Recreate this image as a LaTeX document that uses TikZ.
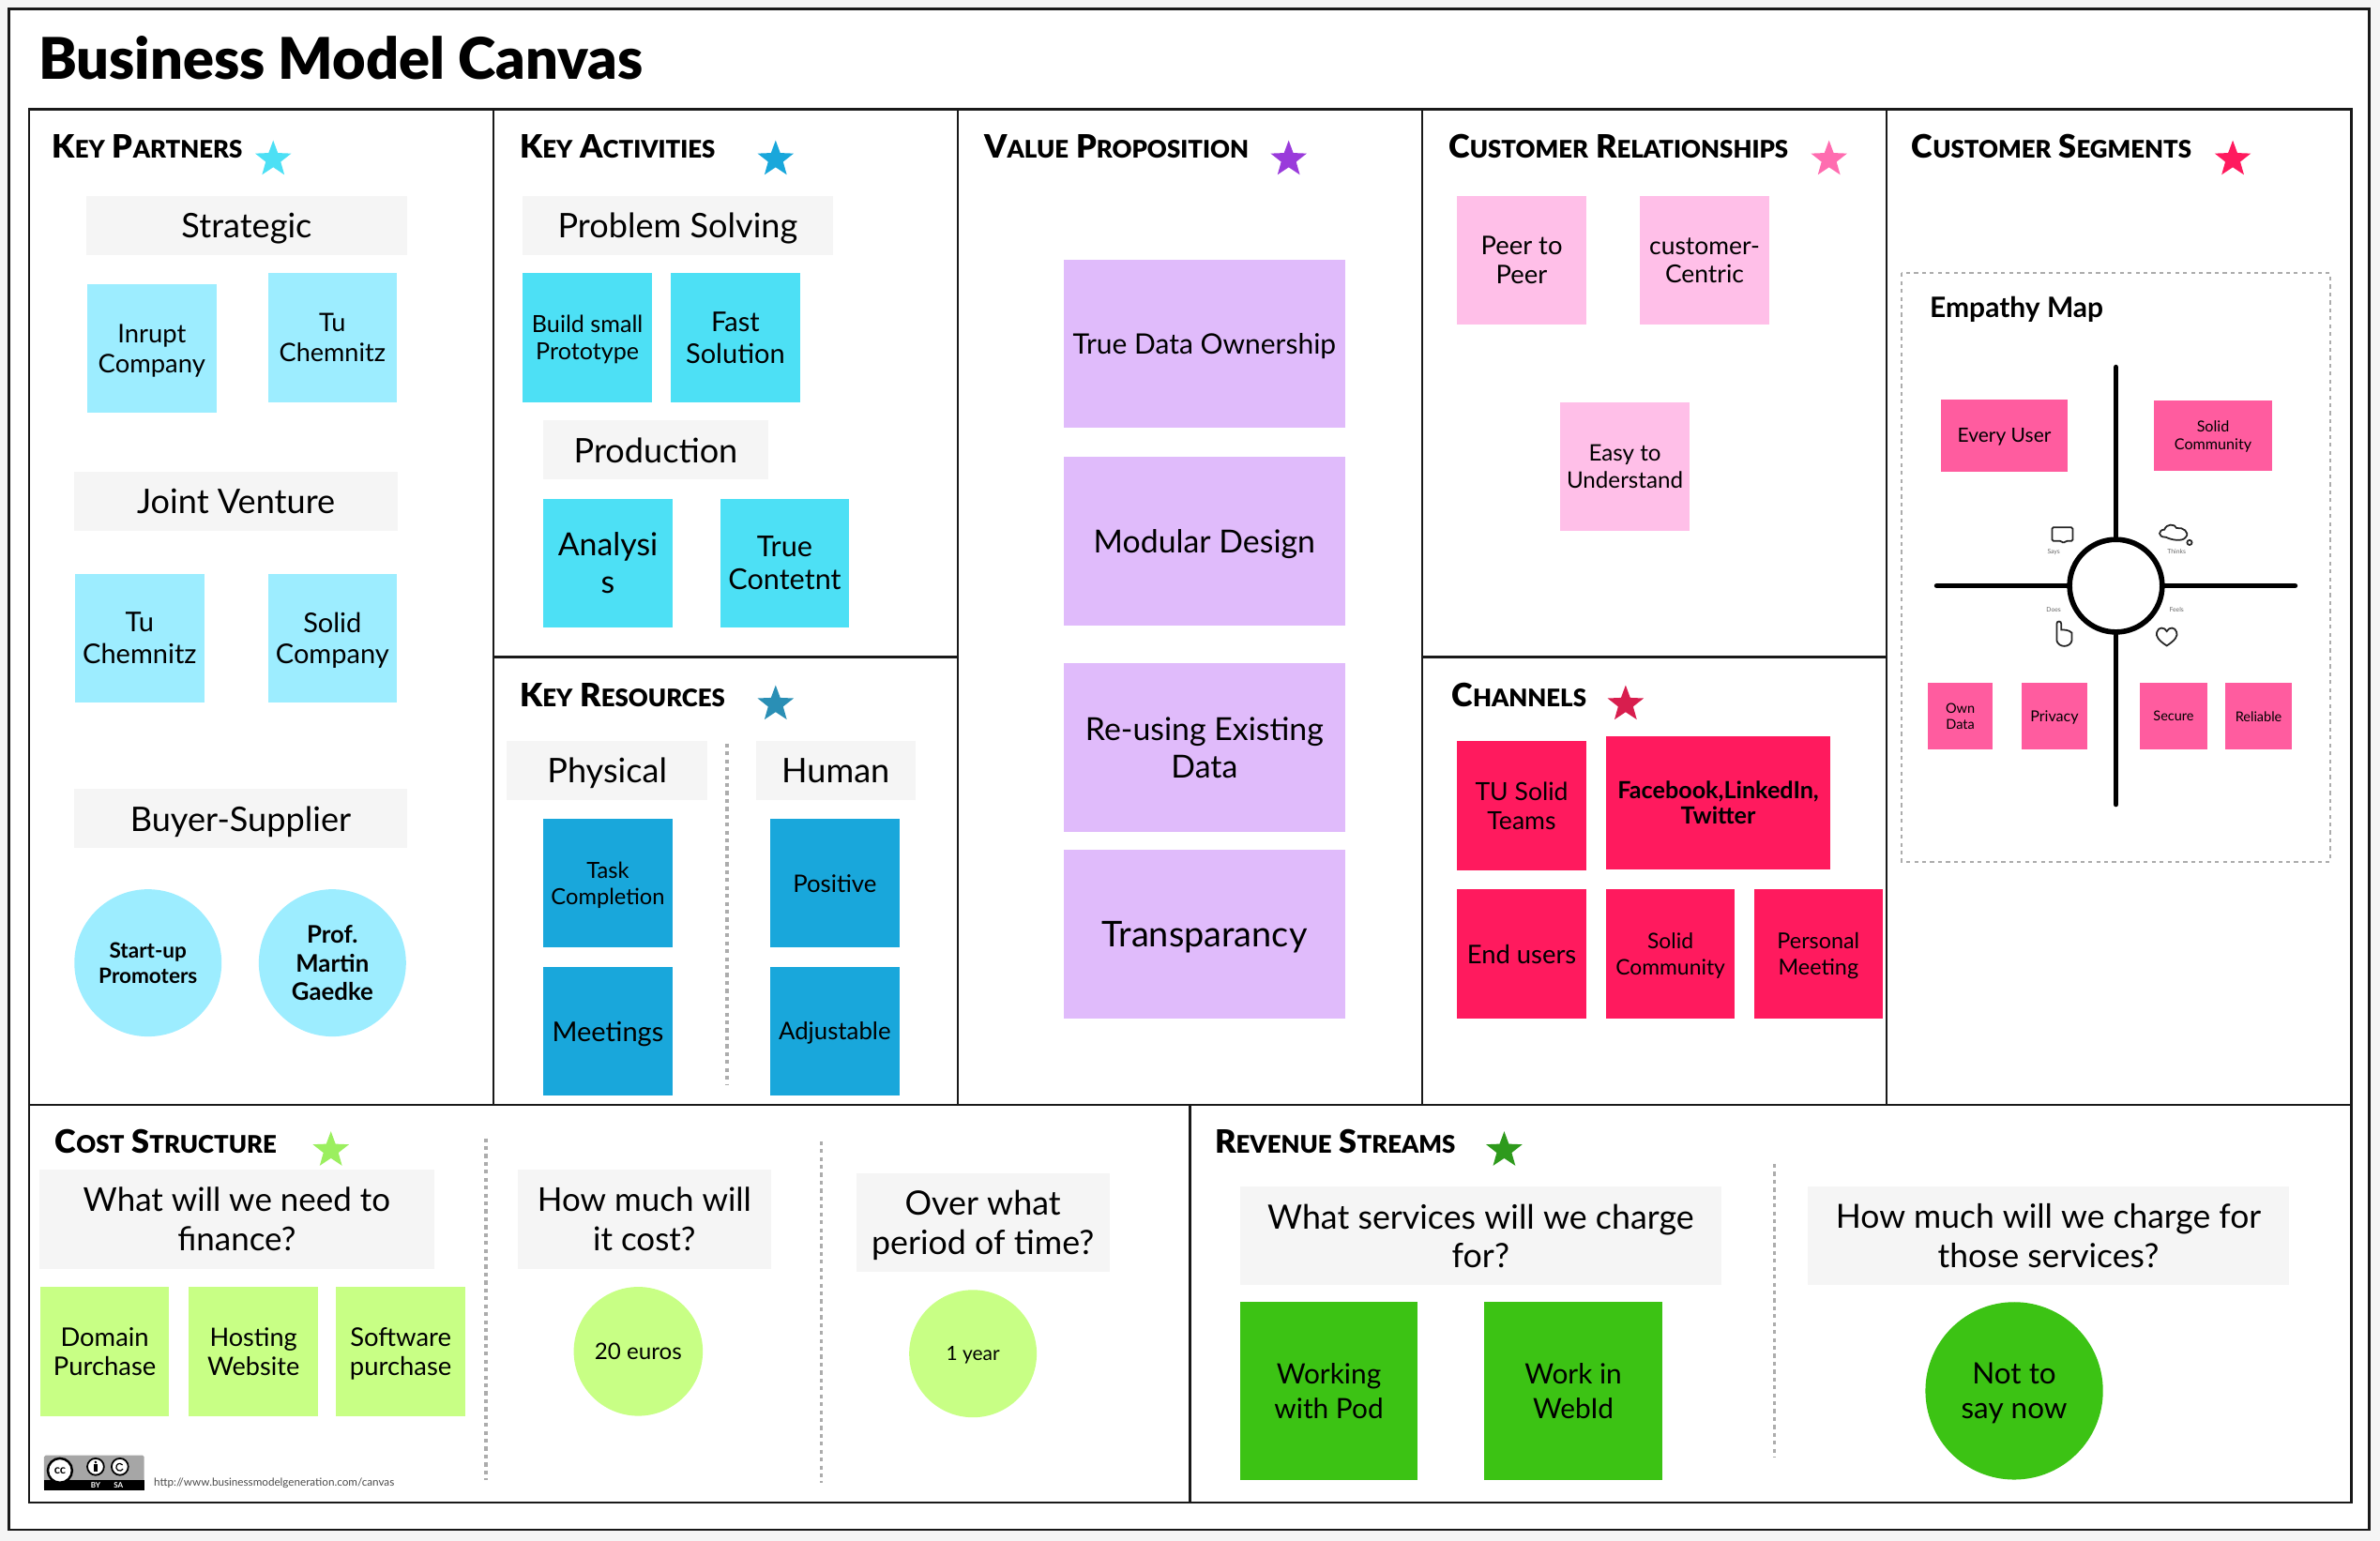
\documentclass[tikz,border=0pt]{standalone}
\usepackage{fontspec}
\setmainfont{Lato}
\newfontfamily\heavy{Lato Black}
\usetikzlibrary{shapes.geometric}

\def\u{0.1618mm}
\newcommand\fs[2]{\fontsize{\fpeval{#1*0.4586}}{\fpeval{#2*0.4586}}\selectfont}
\newcommand\lc[1]{{\fs{16}{18}#1}}
\definecolor{paleblue}{HTML}{9DEDFF}
\definecolor{cyanblue}{HTML}{4DE0F5}
\definecolor{deepblue}{HTML}{19A7DB}
\definecolor{seablue}{HTML}{2A8FB5}
\definecolor{lilac}{HTML}{E0BBFB}
\definecolor{violet}{HTML}{9A3BDB}
\definecolor{palepink}{HTML}{FFBFE8}
\definecolor{rosepink}{HTML}{FF6CB0}
\definecolor{crimson}{HTML}{FF1A5E}
\definecolor{darkrose}{HTML}{D81E4E}
\definecolor{hotpink}{HTML}{FF5C9F}
\definecolor{lime}{HTML}{C8FF85}
\definecolor{brightlime}{HTML}{9BEF5F}
\definecolor{leaf}{HTML}{3CC314}
\definecolor{darkleaf}{HTML}{2E9A1C}
\definecolor{greybox}{HTML}{F5F5F5}
\definecolor{dots}{HTML}{ACACAC}
\tikzset{
  size/.style 2 args={minimum width=#1*\u, minimum height=#2*\u},
  box/.style={inner sep=0pt, align=center, text=black, text depth=0pt},
  header/.style={box, fill=greybox, font=\fs{22.4}{26}},
  sticky/.style={box, size={85}{85}},
  round/.style={box, circle, minimum size=#1*\u},
  title/.style={anchor=base west, inner sep=0pt, font=\fs{21.3}{24}\heavy, text=black},
  prize/.style={star, star points=5, star point ratio=2.4, minimum size=25*\u, inner sep=0pt, fill=#1},
  grid/.style={line width=0.7pt, black!90},
  dotted line/.style={line width=1pt, dots, dash pattern=on 1.2pt off 1.2pt},
  cross/.style={line width=1.6pt, black, line cap=round},
  icon/.style={line width=0.5pt, black!85},
  tiny/.style={inner sep=0pt, text=black!60, font=\fs{4.2}{5}}
}

\begin{document}
\begin{tikzpicture}[x=\u,y=-\u]
    \useasboundingbox (0,0) rectangle (1568,1015.45);
    \fill[greybox] (0,0) rectangle (1568,1015.45);
    \fill[white] (6,6) rectangle (1561,1008);
    \draw[line width=0.8pt, black!90] (6,6) rectangle (1561,1008);

    \node[anchor=base west, inner sep=0pt, font=\fs{38}{40}\heavy] (canvas) at (25,52.5) {Business Model Canvas};

    \draw[grid] (19,72) rectangle (1549,990);
    \draw[grid] (325,72) -- (325,728);
    \draw[grid] (631,72) -- (631,728);
    \draw[grid] (937,72) -- (937,728);
    \draw[grid] (1243,72) -- (1243,728);
    \draw[grid] (19,728) -- (1549,728);
    \draw[grid] (325,433) -- (631,433);
    \draw[grid] (937,433) -- (1243,433);
    \draw[grid] (784,728) -- (784,990);

    \draw[dotted line] (479,490) -- (479,715);
    \draw[dotted line] (320,750) -- (320,975);
    \draw[dotted line] (541,752) -- (541,977);
    \draw[dotted line] (1169,767) -- (1169,960);

    \node[title] (partners) at (34,104) {K\lc{EY} P\lc{ARTNERS}};
    \node[title] (activities) at (342,104) {K\lc{EY} A\lc{CTIVITIES}};
    \node[title] (resources) at (342,466) {K\lc{EY} R\lc{ESOURCES}};
    \node[title] (value) at (648,104) {V\lc{ALUE} P\lc{ROPOSITION}};
    \node[title] (relations) at (954,104) {C\lc{USTOMER} R\lc{ELATIONSHIPS}};
    \node[title] (segments) at (1259,104) {C\lc{USTOMER} S\lc{EGMENTS}};
    \node[title] (channels) at (956,466) {C\lc{HANNELS}};
    \node[title] (cost) at (36,760) {C\lc{OST} S\lc{TRUCTURE}};
    \node[title] (revenue) at (800,760) {R\lc{EVENUE} S\lc{TREAMS}};

    \node[prize=cyanblue] (starpartners) at (180,105) {};
    \node[prize=deepblue] (staractivities) at (511,105) {};
    \node[prize=seablue] (starresources) at (511,464) {};
    \node[prize=violet] (starvalue) at (849,105) {};
    \node[prize=rosepink] (starrelations) at (1205,105) {};
    \node[prize=crimson] (starsegments) at (1471,105) {};
    \node[prize=darkrose] (starchannels) at (1071,464) {};
    \node[prize=brightlime] (starcost) at (218,758) {};
    \node[prize=darkleaf] (starrevenue) at (991,758) {};

    \node[header, size={211}{39}] (strategic) at (162.5,148.5) {Strategic};
    \node[header, size={213}{39}] (joint) at (155.5,330.5) {Joint Venture};
    \node[header, size={219}{39}] (buyer) at (158.5,539.5) {Buyer-Supplier};
    \node[sticky, fill=paleblue, font=\fs{17}{20}] (inrupt) at (100,229.5) {Inrupt\\Company};
    \node[sticky, fill=paleblue, font=\fs{16.8}{20}] (tuone) at (219,222.5) {Tu\\Chemnitz};
    \node[sticky, fill=paleblue, font=\fs{18}{21}] (tutwo) at (92,420.5) {Tu\\Chemnitz};
    \node[sticky, fill=paleblue, font=\fs{18}{21}] (solidcompany) at (219,420.5) {Solid\\Company};
    \node[round=97, fill=paleblue, font=\fs{14}{17}\bfseries] (startup) at (97.5,634.5) {Start-up\\Promoters};
    \node[round=97, fill=paleblue, font=\fs{16}{19}\bfseries] (martin) at (219,634.5) {Prof.\\Martin\\Gaedke};

    \node[header, size={205}{39}] (problem) at (446.5,148.5) {Problem Solving};
    \node[header, size={148}{39}] (production) at (432,296.5) {Production};
    \node[sticky, fill=cyanblue, font=\fs{15.6}{18}] (build) at (387,222.5) {Build small\\Prototype};
    \node[sticky, fill=cyanblue, font=\fs{18}{21}] (fast) at (484.5,222.5) {Fast\\Solution};
    \node[sticky, fill=cyanblue, font=\fs{21}{25}] (analysis) at (400.5,371) {Analysi\\s};
    \node[sticky, fill=cyanblue, font=\fs{19}{22}] (content) at (517,371) {True\\Contetnt};

    \node[header, size={132}{39}] (physical) at (400,507.5) {Physical};
    \node[header, size={105}{39}] (human) at (550.5,507.5) {Human};
    \node[sticky, fill=deepblue, font=\fs{14.7}{17}] (task) at (400.5,582) {Task\\Completion};
    \node[sticky, fill=deepblue, font=\fs{16}{18}] (positive) at (550,582) {Positive};
    \node[sticky, fill=deepblue, font=\fs{18}{20}] (meetings) at (400.5,679.5) {Meetings};
    \node[sticky, fill=deepblue, font=\fs{16}{18}] (adjustable) at (550,679.5) {Adjustable};

    \node[box, size={185}{111}, fill=lilac, font=\fs{18.6}{24}] (ownership) at (793.5,226.5) {True Data Ownership};
    \node[box, size={185}{111}, fill=lilac, font=\fs{21}{25}] (modular) at (793.5,356.5) {Modular Design};
    \node[box, size={185}{111}, fill=lilac, font=\fs{21}{25}] (reuse) at (793.5,492.5) {Re-using Existing\\Data};
    \node[box, size={185}{111}, fill=lilac, font=\fs{23.5}{26}] (transparancy) at (793.5,615.5) {Transparancy};

    \node[sticky, fill=palepink, font=\fs{17}{19}] (peer) at (1002.5,171.5) {Peer to\\Peer};
    \node[sticky, fill=palepink, font=\fs{16.4}{19}] (centric) at (1123,171.5) {customer-\\Centric};
    \node[sticky, fill=palepink, font=\fs{15}{18}] (easy) at (1070.5,307.5) {Easy to\\Understand};

    \node[sticky, fill=crimson, font=\fs{16.5}{19}] (teams) at (1002.5,531) {TU Solid\\Teams};
    \node[box, size={148}{88}, fill=crimson, font=\fs{15.6}{17}\bfseries] (facebook) at (1132,529) {Facebook,LinkedIn,\\Twitter};
    \node[sticky, fill=crimson, font=\fs{17}{18}] (endusers) at (1002.5,628.5) {End users};
    \node[sticky, fill=crimson, font=\fs{14.2}{17}] (community) at (1100.5,628.5) {Solid\\Community};
    \node[sticky, fill=crimson, font=\fs{14.5}{17}] (personal) at (1198,628.5) {Personal\\Meeting};

    \draw[dotted line, line width=0.6pt] (1253,180) rectangle (1535,568);
    \node[anchor=west, inner sep=0pt, font=\fs{18.6}{20}\bfseries] (empathy) at (1271,204) {Empathy Map};
    \node[box, size={83}{48}, fill=hotpink, font=\fs{13}{15}] (everyuser) at (1320.5,287) {Every User};
    \node[box, size={78}{46}, fill=hotpink, font=\fs{10}{12}] (mapcommunity) at (1458,287) {Solid\\Community};
    \node[box, size={43}{44}, fill=hotpink, font=\fs{9}{10}] (owndata) at (1291.5,472) {Own\\Data};
    \node[box, size={43}{44}, fill=hotpink, font=\fs{10}{12}] (privacy) at (1353.5,472) {Privacy};
    \node[box, size={44}{44}, fill=hotpink, font=\fs{9}{11}] (secure) at (1432,472) {Secure};
    \node[box, size={44}{44}, fill=hotpink, font=\fs{9}{11}] (reliable) at (1488,472) {Reliable};

    \node[circle, draw=black, line width=1.6pt, minimum size=61*\u, inner sep=0pt] (hub) at (1394,386) {};
    \coordinate (mapup) at (1394,242);
    \coordinate (mapdown) at (1394,530);
    \coordinate (mapleft) at (1276,386);
    \coordinate (mapright) at (1512,386);
    \draw[cross] (hub) -- (mapup);
    \draw[cross] (hub) -- (mapdown);
    \draw[cross] (hub) -- (mapleft);
    \draw[cross] (hub) -- (mapright);

    \node[tiny] (says) at (1353,363.5) {Says};
    \node[tiny] (thinks) at (1434,363.5) {Thinks};
    \node[tiny] (does) at (1353,402) {Does};
    \node[tiny] (feels) at (1434,402) {Feels};
    \draw[icon, rounded corners=0.4pt] (1352,347.5) -- (1365.5,347.5) -- (1365.5,356.5) -- (1361,356.5) -- (1359.5,358) -- (1358,356.5) -- (1352,356.5) -- cycle;
    \draw[icon] (1427,354) .. controls (1421,354) and (1422,349) .. (1426,349) .. controls (1427,345) and (1433,345) .. (1434,348) .. controls (1438,347) and (1443,351) .. (1440,354) .. controls (1438,357) and (1431,356) .. (1427,354) -- cycle;
    \draw[icon] (1442.5,357.5) circle (1.6);
    \draw[icon] (1355,411) -- (1355,422) .. controls (1356,427) and (1364,427) .. (1365,422) -- (1365,417) .. controls (1363,415) and (1360,415) .. (1358,415) -- (1358,411) .. controls (1358,409) and (1355,409) .. (1355,411) -- cycle;
    \draw[icon] (1427.5,425.5) .. controls (1422,422) and (1420,419) .. (1421,416.5) .. controls (1422,413) and (1426,413) .. (1427.5,416) .. controls (1429,413) and (1433,413) .. (1434,416.5) .. controls (1435,419) and (1433,422) .. (1427.5,425.5) -- cycle;

    \node[header, size={260}{65}, font=\fs{21.7}{26}] (finance) at (156,803.5) {What will we need to\\finance?};
    \node[header, size={167}{65}, font=\fs{21.7}{26}] (howmuch) at (424.5,803.5) {How much will\\it cost?};
    \node[header, size={167}{65}, font=\fs{22.2}{26}] (period) at (647.5,805.5) {Over what\\period of time?};
    \node[sticky, fill=lime, font=\fs{17}{19}] (domain) at (69,890.5) {Domain\\Purchase};
    \node[sticky, fill=lime, font=\fs{16.8}{19}] (hosting) at (167,890.5) {Hosting\\Website};
    \node[sticky, fill=lime, font=\fs{17}{19}] (software) at (264,890.5) {Software\\purchase};
    \node[round=85, fill=lime, font=\fs{15}{18}] (euros) at (420.5,890.5) {20 euros};
    \node[round=84, fill=lime, font=\fs{13}{15}] (year) at (641,892) {1 year};

    \node[header, size={317}{65}, font=\fs{22.2}{26}] (services) at (975.5,814.5) {What services will we charge\\for?};
    \node[header, size={317}{65}, font=\fs{22}{26}] (charge) at (1349.5,814.5) {How much will we charge for\\those services?};
    \node[box, size={117}{117}, fill=leaf, font=\fs{18.5}{22.5}] (pod) at (875.5,916.5) {Working\\with Pod};
    \node[box, size={117}{117}, fill=leaf, font=\fs{18.5}{22.5}] (webid) at (1036.5,916.5) {Work in\\WebId};
    \node[round=117, fill=leaf, font=\fs{19.5}{23}] (notsay) at (1327,916.5) {Not to\\say now};

    \fill[black!35, rounded corners=0.5pt] (29,959) rectangle (95,982);
    \fill[black] (29,975) rectangle (95,982);
    \node[circle, draw=black, line width=0.7pt, fill=white, minimum size=16*\u, inner sep=0pt, font=\fs{8}{8}\bfseries] (ccmark) at (39.5,969) {cc};
    \node[circle, draw=black, line width=0.5pt, fill=white, minimum size=11*\u, inner sep=0pt] (bymark) at (63,966.5) {};
    \node[circle, draw=black, line width=0.5pt, fill=white, minimum size=11*\u, inner sep=0pt] (samark) at (79,966.5) {};
    \fill[black] (63,963.5) circle (0.9);
    \fill[black] (61.5,965) rectangle (64.5,970);
    \draw[line width=0.35pt, black] (81,968) arc (30:320:2.4);
    \node[inner sep=0pt, text=white, font=\fs{5}{5}\bfseries] (bytext) at (63,978.6) {BY};
    \node[inner sep=0pt, text=white, font=\fs{5}{5}\bfseries] (satext) at (78,978.6) {SA};
    \node[anchor=west, inner sep=0pt, text=black!70, font=\fs{7.25}{8}] (url) at (101,977.5) {http://www.businessmodelgeneration.com/canvas};
\end{tikzpicture}
\end{document}
